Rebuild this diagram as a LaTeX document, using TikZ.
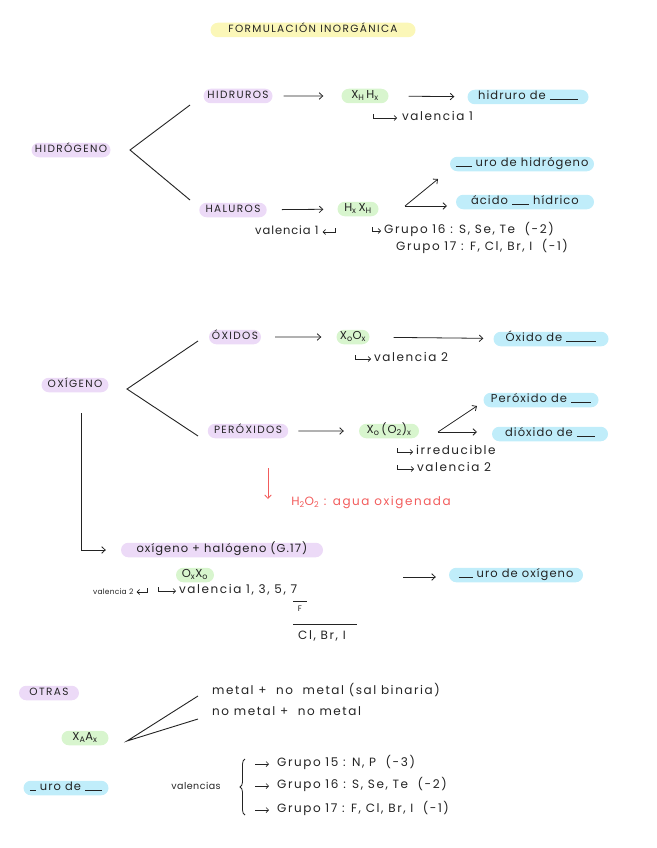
\documentclass[tikz,border=0pt]{standalone}
\usepackage{fontspec}
\setmainfont{Poppins}
\usetikzlibrary{arrows.meta,shapes.misc,decorations.pathreplacing}
\definecolor{hpurple}{RGB}{236,218,247}
\definecolor{hgreen}{RGB}{216,245,206}
\definecolor{hblue}{RGB}{192,237,250}
\definecolor{hyellow}{RGB}{251,247,184}
\definecolor{hred}{RGB}{242,92,92}
\definecolor{ink}{RGB}{35,35,35}
\newcommand{\blank}[1]{\rule[-0.5pt]{#1}{0.8pt}}
\begin{document}
\begin{tikzpicture}[x=1pt,y=-1pt, every node/.style={text=ink},
 pillfont/.style={font=\fontsize{11.5}{13}\selectfont\addfontfeature{LetterSpace=9}},
 bodyfont/.style={font=\fontsize{12}{14}\selectfont\addfontfeature{LetterSpace=13}},
 pill/.style={rounded rectangle, inner xsep=4pt, inner ysep=2pt, text height=8pt, text depth=2.5pt, pillfont},
 upc/.style={font=\fontsize{10.5}{12}\selectfont\addfontfeature{LetterSpace=13}},
 purp/.style={pill, fill=hpurple},
 grn/.style={pill, fill=hgreen},
 blu/.style={pill, fill=hblue},
 txt/.style={inner sep=0pt, text height=8pt, text depth=2.5pt, bodyfont},
 arr/.style={-{Straight Barb[length=3.5pt,width=6.5pt]}, line width=0.8pt, draw=ink},
 hook/.style={-{Straight Barb[length=2.5pt,width=5pt]}, line width=0.7pt, draw=ink},
 ln/.style={line width=0.9pt, draw=ink},
]
\useasboundingbox (0,0) rectangle (656,848);

% title
\node[pill, fill=hyellow, minimum width=213pt, upc] (title) at (313,30) {FORMULACIÓN INORGÁNICA};

% ---------- hidrogeno
\node[purp, upc, minimum width=87pt] (hid) at (71,150) {HIDRÓGENO};
\node[purp, upc, minimum width=77pt] (hidruros) at (238,96) {HIDRUROS};
\node[grn, minimum width=55pt] (xhhx) at (365,96) {X\textsubscript{H}\,H\textsubscript{x}};
\node[blu, minimum width=129pt] (hidruro) at (528,97) {hidruro de \blank{28pt}};
\node[txt, anchor=west] (val1) at (402,118) {valencia 1};
\draw[hook, shorten >=5pt] ([shift={(-29,-4)}]val1.west) |- (val1.west);
\coordinate (h0) at (130,150);
\coordinate (h1) at (190,105);
\coordinate (h2) at (190,200);
\draw[ln] (h1) -- (h0) -- (h2);
\draw[arr, shorten <=11pt, shorten >=18pt] (hidruros) -- (xhhx);
\draw[arr, shorten <=20pt, shorten >=13pt] (xhhx) -- (hidruro);

\node[purp, upc, minimum width=66pt] (haluros) at (233,210) {HALUROS};
\node[grn, minimum width=49pt] (hxxh) at (358,209) {H\textsubscript{x}\,X\textsubscript{H}};
\node[blu, minimum width=152pt] (urohid) at (522,164) {\blank{16pt} uro de hidrógeno};
\node[blu, minimum width=146pt] (acido) at (525,202) {ácido \blank{17pt} hídrico};
\draw[arr, shorten <=15pt, shorten >=14pt] (haluros) -- (hxxh);
\coordinate (hx0) at (405,206);
\coordinate (hx1) at (438,179);
\coordinate (hx2) at (447,206);
\draw[arr] (hx0) -- (hx1);
\draw[arr] (hx0) -- (hx2);
\node[txt, anchor=west, font=\fontsize{11.5}{13}\selectfont\addfontfeature{LetterSpace=8}] (valh) at (255,232) {valencia 1};
\draw[hook] ([shift={(17,-4)}]valh.east) |- ([xshift=4pt]valh.east);
\node[txt, anchor=west] (g16a) at (384,231) {Grupo 16 : S, Se, Te \ (-2)};
\draw[hook, shorten >=3pt] ([shift={(-12,-4)}]g16a.west) |- (g16a.west);
\node[txt, anchor=west] (g17a) at (396,248) {Grupo 17 : F, Cl, Br, I \ (-1)};

% ---------- oxigeno
\node[purp, upc, minimum width=75pt] (oxi) at (75,385) {OXÍGENO};
\node[purp, upc, minimum width=60pt] (oxidos) at (235,337) {ÓXIDOS};
\node[grn, minimum width=41pt] (xoox) at (353,337) {X\textsubscript{o}O\textsubscript{x}};
\node[blu, minimum width=123pt] (oxde) at (551,339) {Óxido de \blank{30pt}};
\node[txt, anchor=west] (val2) at (374,359) {valencia 2};
\draw[hook, shorten >=3pt] ([shift={(-19,-4)}]val2.west) |- (val2.west);
\coordinate (o0) at (127,389);
\coordinate (o1) at (198,341);
\coordinate (o2) at (198,436);
\draw[ln] (o1) -- (o0) -- (o2);
\draw[arr, shorten <=14pt, shorten >=15pt] (oxidos) -- (xoox);
\draw[arr, shorten <=24pt, shorten >=10pt] (xoox) -- (oxde);

\node[purp, upc, minimum width=79pt] (perox) at (248,431) {PERÓXIDOS};
\node[grn, minimum width=68pt] (xoo2) at (389,431) {X\textsubscript{o}\,(O\textsubscript{2})\textsubscript{x}};
\node[blu, minimum width=123pt] (perde) at (541,400) {Peróxido de \blank{20pt}};
\node[blu, minimum width=124pt] (diode) at (550,434) {dióxido de \blank{18pt}};
\draw[arr, shorten <=10pt, shorten >=15pt] (perox) -- (xoo2);
\coordinate (p0) at (438,432);
\coordinate (p1) at (477,406);
\coordinate (p2) at (477,432);
\draw[arr] (p0) -- (p1);
\draw[arr] (p0) -- (p2);
\node[txt, anchor=west] (irr) at (416,452) {irreducible};
\draw[hook, shorten >=3pt] ([shift={(-19,-4)}]irr.west) |- (irr.west);
\node[txt, anchor=west] (val2b) at (417,469) {valencia 2};
\draw[hook, shorten >=3pt] ([shift={(-20,-4)}]val2b.west) |- (val2b.west);

\coordinate (r0) at (268,468);
\coordinate (r1) at (268,499);
\draw[arr, draw=hred] (r0) -- (r1);
\node[txt, text=hred] (agua) at (371,503) {H\textsubscript{2}O\textsubscript{2} : agua oxigenada};

\node[purp, minimum width=210pt] (halog) at (222,550) {oxígeno + halógeno (G.17)};
\coordinate (ov) at (81,413);
\draw[arr, shorten >=15pt] (ov) |- (halog.west);
\node[grn, minimum width=46pt] (oxxo) at (195,575) {O\textsubscript{x}X\textsubscript{o}};
\node[txt, anchor=west, font=\fontsize{7.5}{9}\selectfont\addfontfeature{LetterSpace=3}] (val2c) at (93,592) {valencia 2};
\draw[hook] ([shift={(14,-4)}]val2c.east) |- ([xshift=3pt]val2c.east);
\node[txt, anchor=west] (val1357) at (179,591) {valencia 1, 3, 5, 7};
\draw[hook, shorten >=3pt] ([shift={(-21,-4)}]val1357.west) |- (val1357.west);
\node[txt, font=\fontsize{8}{9}\selectfont] (fF) at (300,609) {F};
\draw[line width=0.7pt, draw=ink] ([shift={(-7,-2)}]fF.north) -- ([shift={(7,-2)}]fF.north);
\coordinate (fl0) at (293,624);
\coordinate (fl1) at (357,624);
\draw[line width=0.8pt, draw=ink] (fl0) -- (fl1);
\node[txt] (clbri) at (322,637) {Cl, Br, I};
\node[blu, minimum width=142pt] (urox) at (516,575) {\blank{14pt} uro de oxígeno};
\coordinate (ux0) at (403,577);
\draw[arr, shorten >=13pt] (ux0) -- (urox.west |- ux0);

% ---------- otras
\node[purp, upc, minimum width=68pt] (otras) at (49,693) {OTRAS};
\node[grn, minimum width=55pt] (xaax) at (85,738) {X\textsubscript{A}A\textsubscript{x}};
\node[blu, minimum width=93pt] (urode) at (66,788) {\blank{6pt} uro de \blank{17pt}};
\coordinate (x0) at (127,741);
\coordinate (x1) at (198,696);
\coordinate (x2) at (198,719);
\draw[ln] (x1) -- (x0) -- (x2);
\node[txt, anchor=west] (mnm) at (212,692) {metal + \ no \ metal (sal binaria)};
\node[txt, anchor=west] (nmnm) at (212,713) {no metal + \ no metal};
\node[txt, font=\fontsize{9.5}{11}\selectfont\addfontfeature{LetterSpace=5}] (valencias) at (196,787) {valencias};
\coordinate (b0) at (245,815);
\coordinate (b1) at (245,759);
\draw[decorate, decoration={brace, amplitude=5pt}, line width=0.8pt, draw=ink] (b0) -- (b1);
\node[txt, anchor=west] (g15) at (277,764) {Grupo 15 : N, P \ (-3)};
\node[txt, anchor=west] (g16) at (277,786) {Grupo 16 : S, Se, Te \ (-2)};
\node[txt, anchor=west] (g17) at (277,810) {Grupo 17 : F, Cl, Br, I \ (-1)};
\draw[hook, shorten >=8pt] ([xshift=-22pt]g15.west) -- (g15.west);
\draw[hook, shorten >=8pt] ([xshift=-22pt]g16.west) -- (g16.west);
\draw[hook, shorten >=8pt] ([xshift=-22pt]g17.west) -- (g17.west);
\end{tikzpicture}
\end{document}
